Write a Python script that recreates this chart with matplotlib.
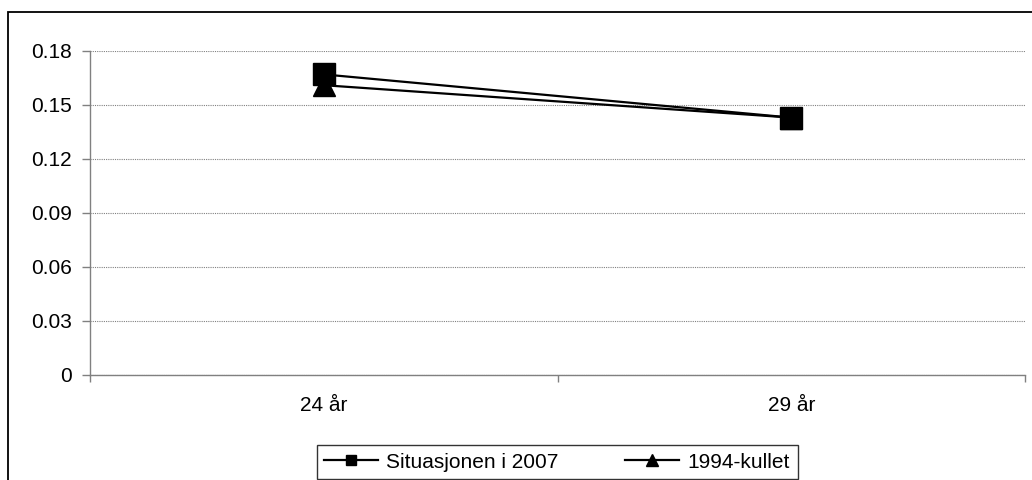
import matplotlib.pyplot as plt
from matplotlib.patches import Rectangle
from matplotlib.lines import Line2D

plt.rcParams['font.family'] = ['Liberation Sans', 'DejaVu Sans']

categories = ['24 år', '29 år']
situasjonen_2007 = [0.167, 0.143]
kullet_1994 = [0.161, 0.143]
yticks = [0, 0.03, 0.06, 0.09, 0.12, 0.15, 0.18]
ytick_labels = ['0', '0.03', '0.06', '0.09', '0.12', '0.15', '0.18']

FS = 15

fig = plt.figure(figsize=(10.32, 4.8), dpi=100)
ax = fig.add_axes([90 / 1032, 1 - 375 / 480, (1025 - 90) / 1032, (375 - 51) / 480])

x = list(range(len(categories)))
# triangle series first so the squares sit on top where they overlap
ax.plot(x, kullet_1994, color='black', lw=1.6, marker='^', markersize=16, zorder=3)
ax.plot(x, situasjonen_2007, color='black', lw=1.6, marker='s', markersize=16, zorder=4)

ax.set_xlim(-0.5, len(categories) - 0.5)
ax.set_ylim(0, 0.18)
ax.set_yticks(yticks)
ax.set_yticklabels(ytick_labels)
ax.set_xticks(x)
ax.set_xticklabels(categories)
ax.set_xticks([i - 0.5 for i in range(len(categories) + 1)], minor=True)

ax.tick_params(axis='x', which='major', length=0, pad=15, labelsize=FS)
ax.tick_params(axis='x', which='minor', length=5, width=1, color='#808080', direction='out')
ax.tick_params(axis='y', length=6, width=1, color='#808080', pad=7, labelsize=FS)

ax.yaxis.grid(True, color='#808080', linestyle=(0, (1, 1)), lw=0.8)
ax.set_axisbelow(True)
for s in ['top', 'right']:
    ax.spines[s].set_visible(False)
for s in ['left', 'bottom']:
    ax.spines[s].set_color('#808080')
    ax.spines[s].set_linewidth(1)

handles = [
    Line2D([], [], color='black', lw=1.6, marker='s', markersize=7.5),
    Line2D([], [], color='black', lw=1.6, marker='^', markersize=8),
]
leg = fig.legend(handles, ['Situasjonen i 2007', '1994-kullet'], ncol=2,
                 loc='center', bbox_to_anchor=(557 / 1032, 1 - 462 / 480),
                 fontsize=FS, frameon=True, fancybox=False, edgecolor='black',
                 handlelength=2.6, handletextpad=0.4, columnspacing=3.2,
                 borderpad=0.35)
leg.get_frame().set_linewidth(1)

# outer chart border
fig.patches.append(Rectangle((8 / 1032, -0.05), 1.1, 1 - 12 / 480 + 0.05,
                             transform=fig.transFigure, fill=False,
                             edgecolor='black', lw=1.3))

fig.savefig('out.png', dpi=100)
